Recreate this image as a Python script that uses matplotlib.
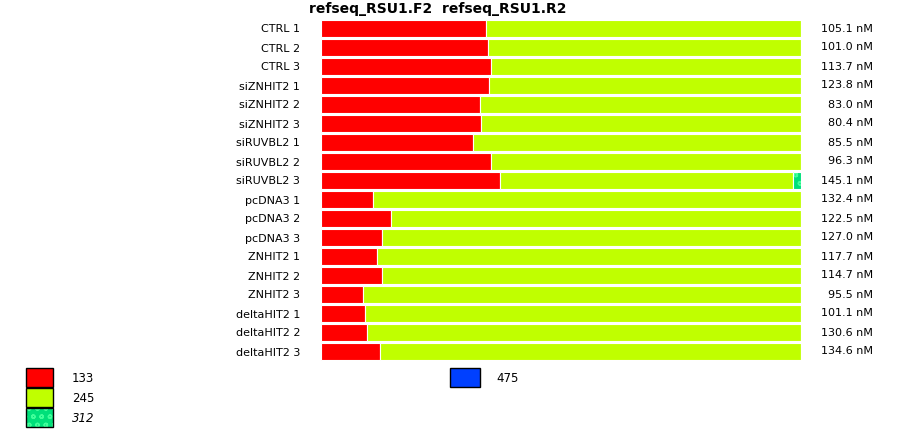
import numpy as np
import matplotlib.pyplot as plt
from matplotlib.patches import Rectangle
from matplotlib.transforms import blended_transform_factory

samples = ['CTRL 1', 'CTRL 2', 'CTRL 3', 'siZNHIT2 1', 'siZNHIT2 2', 'siZNHIT2 3',
           'siRUVBL2 1', 'siRUVBL2 2', 'siRUVBL2 3', 'pcDNA3 1', 'pcDNA3 2', 'pcDNA3 3',
           'ZNHIT2 1', 'ZNHIT2 2', 'ZNHIT2 3', 'deltaHIT2 1', 'deltaHIT2 2', 'deltaHIT2 3']
conc = ['105.1 nM', '101.0 nM', '113.7 nM', '123.8 nM', '83.0 nM', '80.4 nM',
        '85.5 nM', '96.3 nM', '145.1 nM', '132.4 nM', '122.5 nM', '127.0 nM',
        '117.7 nM', '114.7 nM', '95.5 nM', '101.1 nM', '130.6 nM', '134.6 nM']
# percent of each product per sample
p133 = [34.4, 34.8, 35.4, 35.0, 33.1, 33.3, 31.7, 35.4, 37.3, 10.8, 14.6, 12.7,
        11.7, 12.7, 8.8, 9.2, 9.6, 12.3]
p312 = [0, 0, 0, 0, 0, 0, 0, 0, 1.7, 0, 0, 0, 0, 0, 0, 0, 0, 0]
p245 = [100 - a - c for a, c in zip(p133, p312)]

legend_left = ['133', '245', '312']
legend_right = ['475']
col = {'133': '#ff0000', '245': '#c0ff00', '312': '#00e07a', '475': '#0040ff'}
dots = '#40ff9a'

W, H = 900, 432
fig = plt.figure(figsize=(9, 4.32), dpi=100)
ax = fig.add_axes([321 / W, 1 - 361 / H, 480 / W, 342 / H])

y = np.arange(len(samples))
ax.barh(y, p133, height=0.9, color=col['133'], edgecolor='white', linewidth=0.8)
ax.barh(y, p245, left=p133, height=0.9, color=col['245'], edgecolor='white', linewidth=0.8)
left312 = [a + b for a, b in zip(p133, p245)]
# hatch colour follows the edge colour, so draw the dotted fill first, then the white outline
ax.barh(y, p312, left=left312, height=0.9, color=col['312'], edgecolor=dots,
        linewidth=0, hatch='oo')
ax.barh(y, p312, left=left312, height=0.9, fill=False, edgecolor='white', linewidth=0.8)

ax.set_xlim(0, 100)
ax.set_ylim(len(samples) - 0.5, -0.5)
ax.set_yticks(y)
ax.set_yticklabels(samples, fontsize=8)
ax.tick_params(axis='y', length=0, pad=15)
ax.set_xticks([])
for s in ax.spines.values():
    s.set_visible(False)

tr = blended_transform_factory(fig.transFigure, ax.transData)
for i, c in enumerate(conc):
    ax.text(873 / W, i, c, transform=tr, fontsize=8, ha='right', va='center')

fig.text(438 / W, 1 - 9 / H, 'refseq_RSU1.F2  refseq_RSU1.R2', fontsize=10,
         fontweight='bold', ha='center', va='center')

# legend boxes
for k, lab in enumerate(legend_left):
    top = 368 + k * 20
    xy = (26 / W, 1 - (top + 19) / H)
    if lab == '312':
        fig.patches.append(Rectangle(xy, 27 / W, 19 / H, transform=fig.transFigure,
                                     facecolor=col[lab], edgecolor=dots, linewidth=0,
                                     hatch='oo'))
        fig.patches.append(Rectangle(xy, 27 / W, 19 / H, transform=fig.transFigure,
                                     fill=False, edgecolor='black', linewidth=1))
    else:
        fig.patches.append(Rectangle(xy, 27 / W, 19 / H, transform=fig.transFigure,
                                     facecolor=col[lab], edgecolor='black', linewidth=1))
    fig.text(72 / W, 1 - (top + 10) / H, lab, fontsize=8.5, ha='left', va='center',
             style='italic' if lab == '312' else 'normal')
for lab in legend_right:
    fig.patches.append(Rectangle((450 / W, 1 - 387 / H), 30 / W, 19 / H,
                                 transform=fig.transFigure, facecolor=col[lab],
                                 edgecolor='black', linewidth=1))
    fig.text(496 / W, 1 - 378 / H, lab, fontsize=8.5, ha='left', va='center')

fig.savefig('out.png', dpi=100)
